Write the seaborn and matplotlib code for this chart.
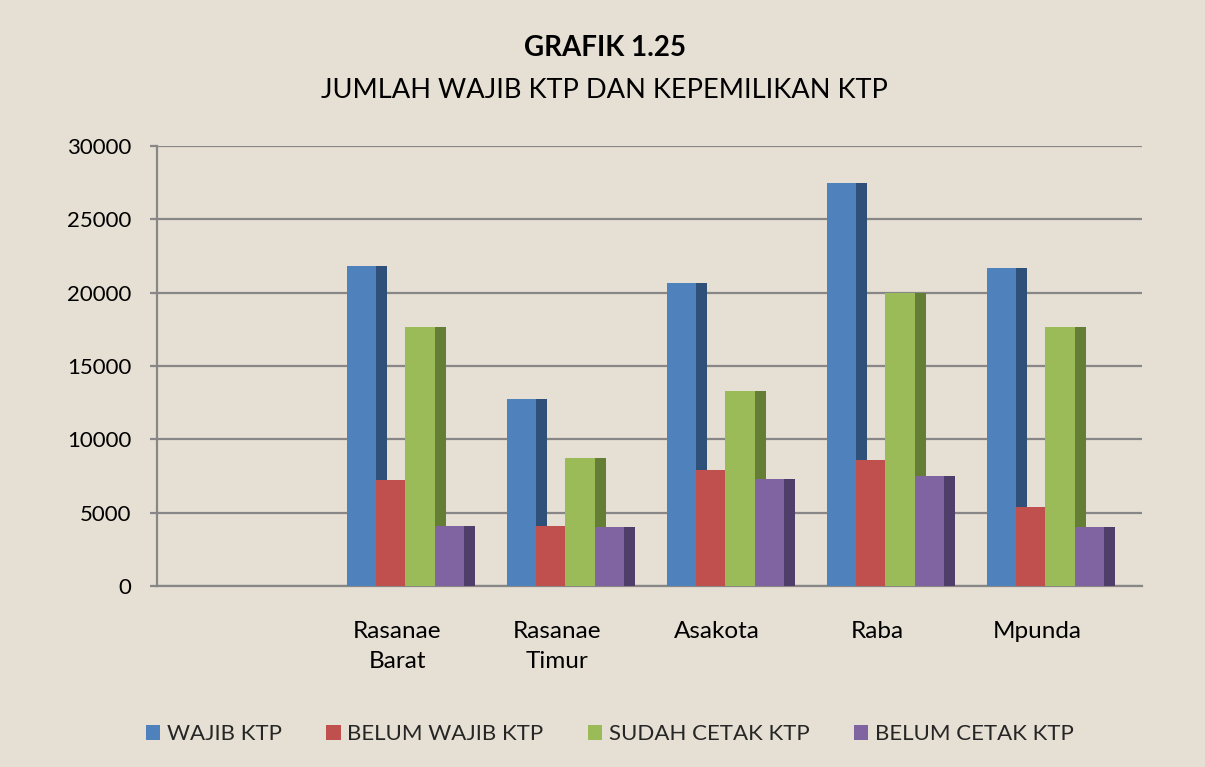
import matplotlib
matplotlib.use('Agg')
import matplotlib.pyplot as plt
import seaborn as sns
import pandas as pd
from matplotlib.patches import Rectangle

# ---- data ----
categories = ['', 'Rasanae\nBarat', 'Rasanae\nTimur', 'Asakota', 'Raba', 'Mpunda']
data_categories = categories[1:]
series = ['WAJIB KTP', 'BELUM WAJIB KTP', 'SUDAH CETAK KTP', 'BELUM CETAK KTP']
wajib_ktp = [21800, 12750, 20630, 27450, 21660]
belum_wajib_ktp = [7230, 4110, 7890, 8590, 5360]
sudah_cetak_ktp = [17670, 8750, 13290, 19950, 17670]
belum_cetak_ktp = [4090, 4000, 7320, 7500, 4000]
y_ticks = [0, 5000, 10000, 15000, 20000, 25000, 30000]
title_main = 'GRAFIK 1.25'
title_sub = 'JUMLAH WAJIB KTP DAN KEPEMILIKAN KTP'

front_colors = ['#4F81BD', '#C0504D', '#9BBB59', '#8064A2']
side_colors = ['#2F5079', '#8C3836', '#657E36', '#4F3D6A']
bg = '#E6DFD3'
grid_c = '#878787'

rows = []
for s, vals in zip(series, [wajib_ktp, belum_wajib_ktp, sudah_cetak_ktp, belum_cetak_ktp]):
    for c, v in zip(data_categories, vals):
        rows.append({'kec': c, 'val': v, 'series': s})
df = pd.DataFrame(rows)

sns.set_theme(style='white')
plt.rcParams['font.family'] = ['Lato', 'DejaVu Sans']

fig = plt.figure(figsize=(12.05, 7.67), dpi=100, facecolor=bg)
ax = fig.add_axes([0.1303, 0.236, 0.8174, 0.5736])
ax.set_facecolor(bg)

sns.barplot(data=df, x='kec', y='val', hue='series', order=categories,
            hue_order=series, palette=dict(zip(series, front_colors)),
            saturation=1, width=0.733, dodge=True, errorbar=None,
            linewidth=0, legend=False, ax=ax)

depth = 0.067      # visible side face of the 3D bars (category units)
shift = 0.053      # perspective shift of the bar block (category units)
for i, cont in enumerate(ax.containers):
    for p in cont.patches:
        p.set_zorder(3 + 2 * i)
        p.set_linewidth(0)
        p.set_x(p.get_x() + shift)
        x, w, h = p.get_x(), p.get_width(), p.get_height()
        ax.add_patch(Rectangle((x + w, 0), depth, h, facecolor=side_colors[i],
                               linewidth=0, zorder=2 + 2 * i))

ax.set_xlim(-0.5, len(categories) - 0.5 + 0.156)
ax.set_ylim(0, 30000)
ax.set_yticks(y_ticks)
ax.set_yticklabels([str(t) for t in y_ticks])
ax.yaxis.grid(True, color=grid_c, linewidth=1.6)
ax.set_axisbelow(True)
ax.set_xlabel('')
ax.set_ylabel('')
for sp in ['top', 'right']:
    ax.spines[sp].set_visible(False)
for sp in ['left', 'bottom']:
    ax.spines[sp].set_color(grid_c)
    ax.spines[sp].set_linewidth(1.6)
ax.tick_params(axis='y', left=True, length=5, width=1.6, color=grid_c,
               labelsize=16, labelcolor='black', pad=13.5)
ax.tick_params(axis='x', bottom=False, labelsize=17.5, labelcolor='black', pad=19)
for lab in ax.get_xticklabels():
    lab.set_linespacing(1.55)

fig.text(0.502, 1 - 48 / 767, title_main, ha='center', va='center',
         fontsize=20, fontweight='bold', color='black')
fig.text(0.502, 1 - 90 / 767, title_sub, ha='center', va='center',
         fontsize=19.6, color='black')

handles = [Rectangle((0, 0), 1, 1, facecolor=c, linewidth=0) for c in front_colors]
fig.legend(handles, series, loc='center', bbox_to_anchor=(0.506, 1 - 734 / 767),
           ncol=4, frameon=False, fontsize=16, handlelength=0.65, handleheight=0.65,
           handletextpad=0.3, columnspacing=2.0)

fig.savefig('out.png', dpi=100, facecolor=bg)
